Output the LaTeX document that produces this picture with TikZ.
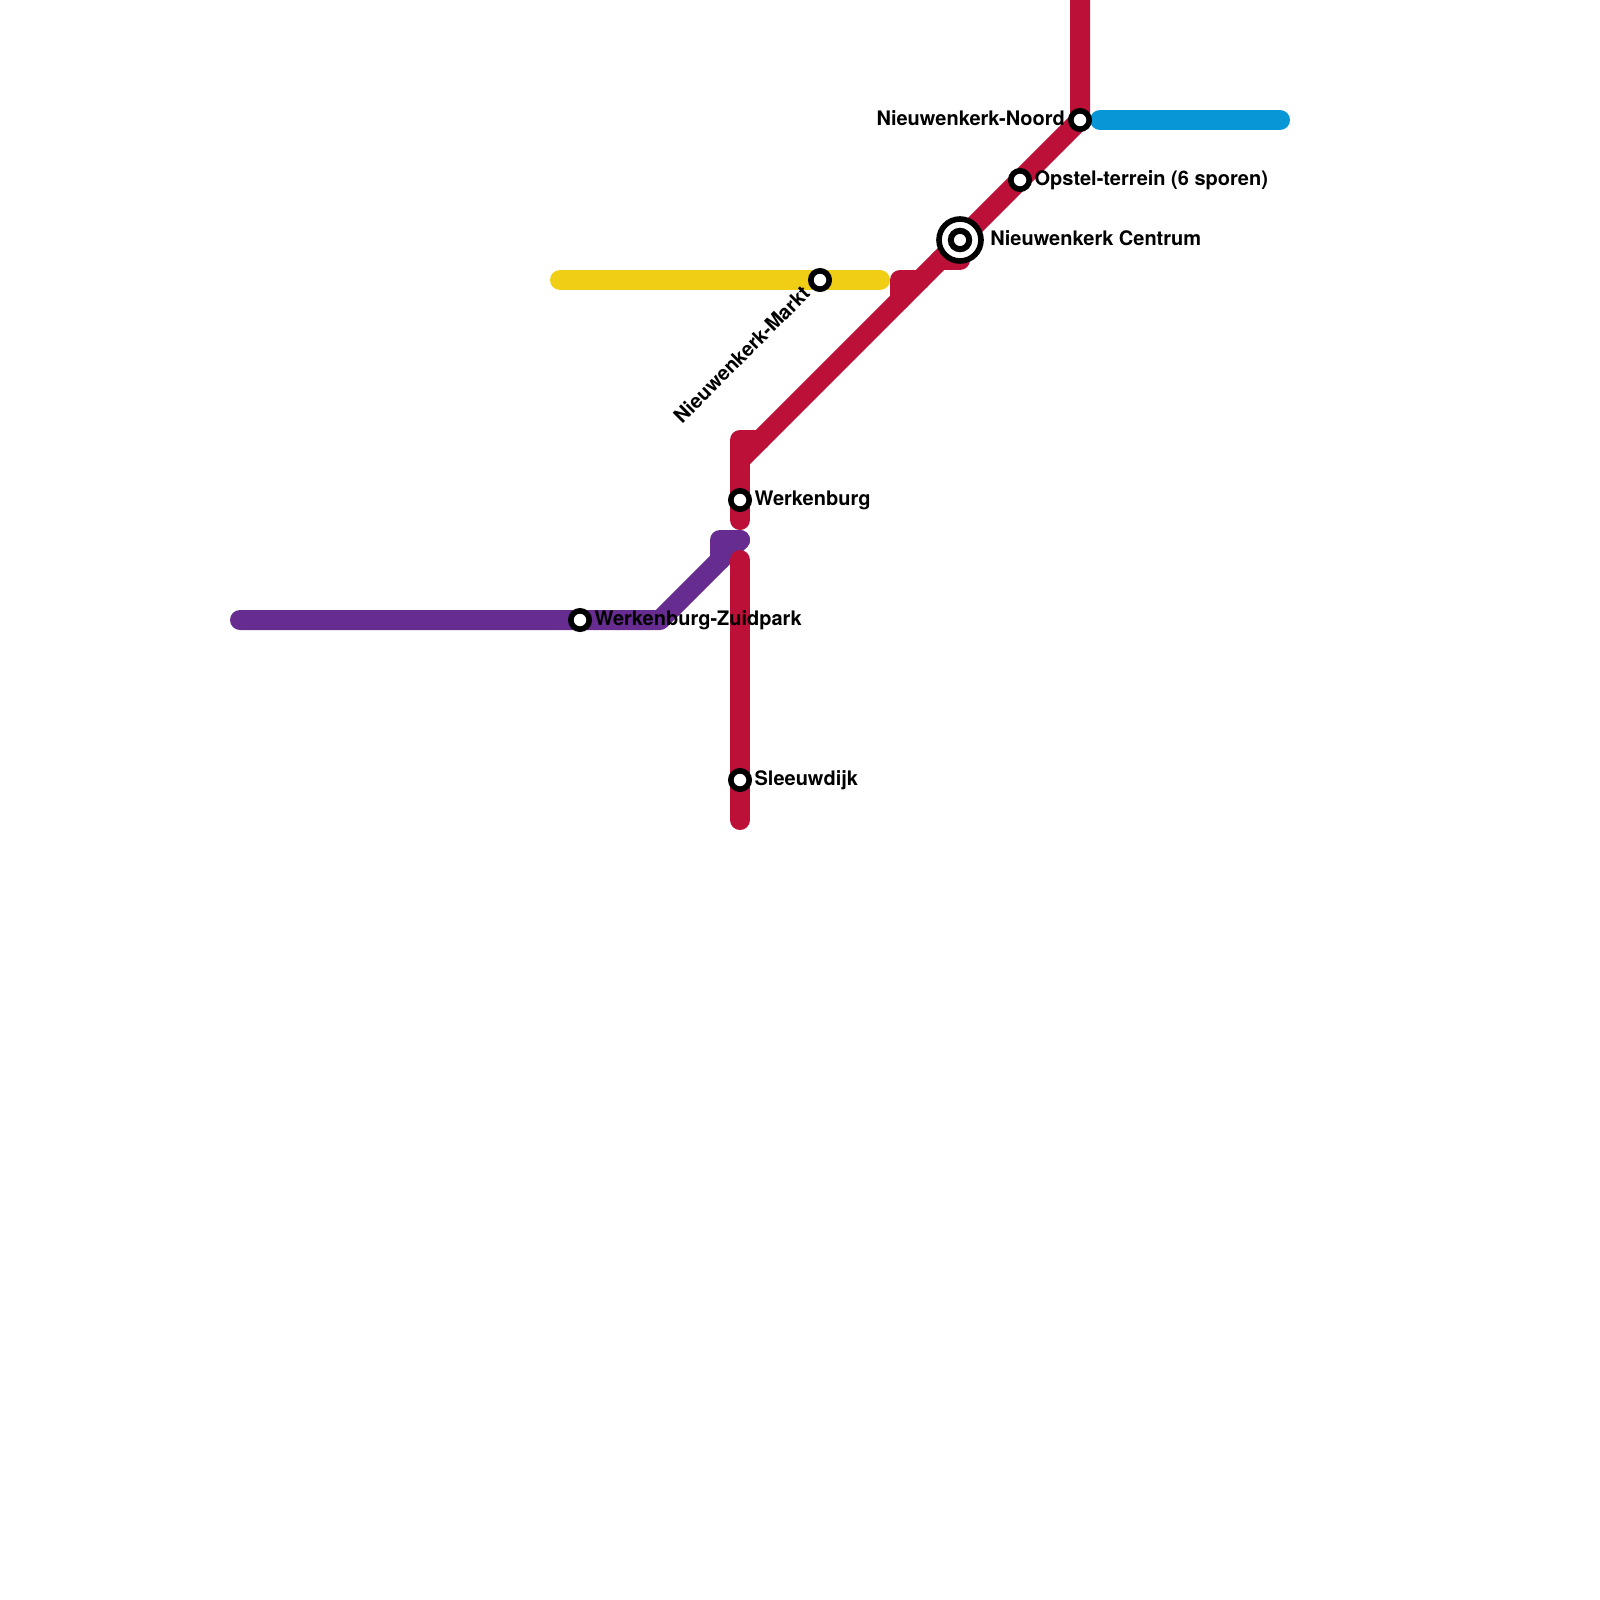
\documentclass[tikz,border=0pt]{standalone}
\usepackage{fontspec}
\setmainfont{TeX Gyre Heros}
\usepackage{xcolor}
\usetikzlibrary{positioning}
\definecolor{rood}{HTML}{BD1038}
\definecolor{paars}{HTML}{662C90}
\definecolor{geel}{HTML}{F0CE15}
\definecolor{blauw}{HTML}{0896D7}

\begin{document}
\begin{tikzpicture}[
  x=0.5pt, y=-0.5pt,
  font=\bfseries\fontsize{10}{12}\selectfont,
  node distance=1.1pt,
  lijn/.style  = {line width=10pt, line cap=round, line join=round},
  halte/.style = {draw=black, circle, fill=white, inner sep=0pt,
                  minimum size=9.2pt, line width=2.8pt},
  kern/.style  = {draw=black, circle, fill=white, inner sep=0pt,
                  minimum size=21pt, line width=2.8pt},
  lbl/.style   = {inner sep=0pt, text height=6pt, text depth=0.5pt},
]
\useasboundingbox (0,0) rectangle (1600,1600);

%% --- turning points of the lines ---
\coordinate (geelA) at (560,280);
\coordinate (geelB) at (880,280);
\coordinate (blauwA) at (1100,120);
\coordinate (blauwB) at (1280,120);
\coordinate (paarsA) at (240,620);
\coordinate (paarsB) at (660,620);
\coordinate (paarsC) at (720,560);
\coordinate (paarsD) at (720,540);
\coordinate (paarsE) at (740,540);
\coordinate (roodA) at (740,520);
\coordinate (roodB) at (740,440);
\coordinate (roodC) at (760,440);
\coordinate (roodD) at (740,460);
\coordinate (roodE) at (900,300);
\coordinate (roodF) at (900,280);
\coordinate (roodG) at (920,280);
\coordinate (roodH) at (940,260);
\coordinate (roodI) at (960,260);
\coordinate (roodJ) at (1080,120);
\coordinate (roodK) at (1080,-15);
\coordinate (roodL) at (740,560);
\coordinate (roodM) at (740,820);

%% --- lines ---
\draw[lijn, geel] (geelA) -- (geelB);
\draw[lijn, blauw] (blauwA) -- (blauwB);
\draw[lijn, paars] (paarsA) -- (paarsB) -- (paarsE);
\draw[lijn, paars] (paarsC) -- (paarsD) -- (paarsE);
\draw[lijn, rood] (roodL) -- (roodM);
\draw[lijn, rood] (roodA) -- (roodB) -- (roodC);
\draw[lijn, rood] (roodD) -- (roodJ) -- (roodK);
\draw[lijn, rood] (roodE) -- (roodF) -- (roodG);
\draw[lijn, rood] (roodH) -- (roodI);

%% --- stations ---
\node[halte] (noord) at (1080,120) {};
\node[halte] (opstel) at (1020,180) {};
\node[kern] (centrumbuiten) at (960,240) {};
\node[halte, line width=3pt] (centrum) at (960,240) {};
\node[halte] (markt) at (820,280) {};
\node[halte] (werkenburg) at (740,500) {};
\node[halte] (zuidpark) at (580,620) {};
\node[halte] (sleeuwdijk) at (740,780) {};

%% --- labels ---
\node[lbl, left=1.4pt of noord] (noordlbl) {Nieuwenkerk-Noord};
\node[lbl, right=of opstel] (opstellbl) {Opstel-terrein (6 sporen)};
\node[lbl, right=3.1pt of centrumbuiten] (centrumlbl) {Nieuwenkerk Centrum};
\node[lbl, rotate=45, anchor=east, xshift=-2.3pt, yshift=0.5pt] (marktlbl) at (markt.south west) {Nieuwenkerk-Markt};
\node[lbl, right=of werkenburg] (werkenburglbl) {Werkenburg};
\node[lbl, right=of zuidpark] (zuidparklbl) {Werkenburg-Zuidpark};
\node[lbl, right=of sleeuwdijk] (sleeuwdijklbl) {Sleeuwdijk};
\end{tikzpicture}
\end{document}
